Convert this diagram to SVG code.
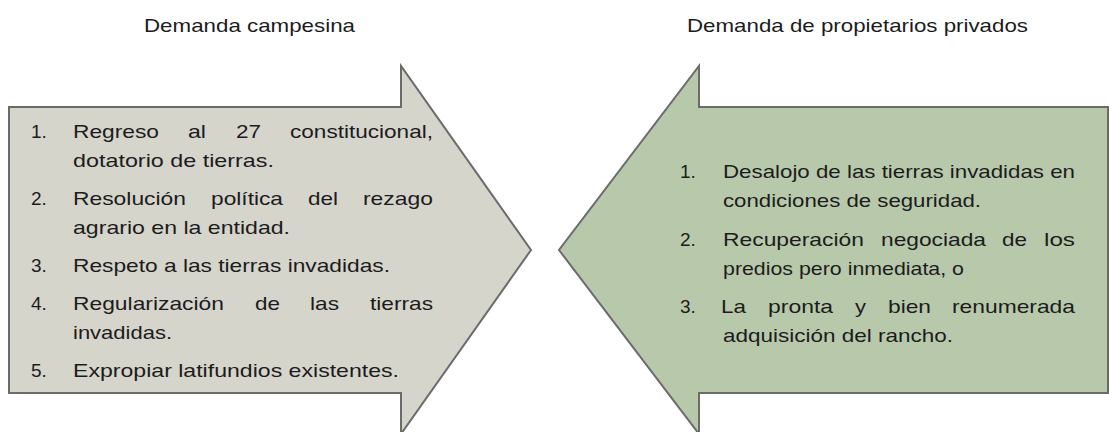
<svg xmlns="http://www.w3.org/2000/svg" width="1109" height="432" viewBox="0 0 1109 432">
<style>
text{font-family:"Liberation Sans",Arial,sans-serif;font-size:19px;fill:#1c1c1c}
.arrow{stroke:#6b6b6b;stroke-width:2;stroke-linejoin:miter}
.left{fill:#d6d5cc}
.right{fill:#b8c9ab}
</style>
<rect width="1109" height="432" fill="#ffffff"/>
<g id="title-left"><text x="144" y="32" textLength="211" lengthAdjust="spacingAndGlyphs">Demanda campesina</text></g>
<g id="title-right"><text x="687" y="32" textLength="341" lengthAdjust="spacingAndGlyphs">Demanda de propietarios privados</text></g>
<g id="arrow-left">
<path class="arrow left" d="M9,107 L401,107 L401,66 L531,250 L401,434 L401,393 L9,393 Z"/>
<text x="31" y="138">1.</text>
<text x="73" y="138" textLength="86" lengthAdjust="spacingAndGlyphs">Regreso</text>
<text x="188" y="138" textLength="18" lengthAdjust="spacingAndGlyphs">al</text>
<text x="236" y="138" textLength="25" lengthAdjust="spacingAndGlyphs">27</text>
<text x="290" y="138" textLength="143" lengthAdjust="spacingAndGlyphs">constitucional,</text>
<text x="73" y="167" textLength="201" lengthAdjust="spacingAndGlyphs">dotatorio de tierras.</text>
<text x="31" y="205">2.</text>
<text x="73" y="205" textLength="113" lengthAdjust="spacingAndGlyphs">Resolución</text>
<text x="211" y="205" textLength="72" lengthAdjust="spacingAndGlyphs">política</text>
<text x="308" y="205" textLength="30" lengthAdjust="spacingAndGlyphs">del</text>
<text x="363" y="205" textLength="70" lengthAdjust="spacingAndGlyphs">rezago</text>
<text x="73" y="234" textLength="217" lengthAdjust="spacingAndGlyphs">agrario en la entidad.</text>
<text x="31" y="272">3.</text>
<text x="73" y="272" textLength="317" lengthAdjust="spacingAndGlyphs">Respeto a las tierras invadidas.</text>
<text x="31" y="310">4.</text>
<text x="73" y="310" textLength="151" lengthAdjust="spacingAndGlyphs">Regularización</text>
<text x="255" y="310" textLength="25" lengthAdjust="spacingAndGlyphs">de</text>
<text x="310" y="310" textLength="29" lengthAdjust="spacingAndGlyphs">las</text>
<text x="370" y="310" textLength="63" lengthAdjust="spacingAndGlyphs">tierras</text>
<text x="73" y="339" textLength="99" lengthAdjust="spacingAndGlyphs">invadidas.</text>
<text x="31" y="377">5.</text>
<text x="73" y="377" textLength="326" lengthAdjust="spacingAndGlyphs">Expropiar latifundios existentes.</text>
</g>
<g id="arrow-right">
<path class="arrow right" d="M1108,107 L699,107 L699,66 L559,250 L699,434 L699,393 L1108,393 Z"/>
<text x="680" y="178">1.</text>
<text x="723" y="178" textLength="352" lengthAdjust="spacingAndGlyphs">Desalojo de las tierras invadidas en</text>
<text x="723" y="207" textLength="258" lengthAdjust="spacingAndGlyphs">condiciones de seguridad.</text>
<text x="680" y="246">2.</text>
<text x="723" y="246" textLength="141" lengthAdjust="spacingAndGlyphs">Recuperación</text>
<text x="881" y="246" textLength="105" lengthAdjust="spacingAndGlyphs">negociada</text>
<text x="1002" y="246" textLength="25" lengthAdjust="spacingAndGlyphs">de</text>
<text x="1044" y="246" textLength="31" lengthAdjust="spacingAndGlyphs">los</text>
<text x="723" y="275" textLength="241" lengthAdjust="spacingAndGlyphs">predios pero inmediata, o</text>
<text x="680" y="313">3.</text>
<text x="721" y="313" textLength="25" lengthAdjust="spacingAndGlyphs">La</text>
<text x="768" y="313" textLength="65" lengthAdjust="spacingAndGlyphs">pronta</text>
<text x="855" y="313" textLength="11" lengthAdjust="spacingAndGlyphs">y</text>
<text x="888" y="313" textLength="43" lengthAdjust="spacingAndGlyphs">bien</text>
<text x="952" y="313" textLength="123" lengthAdjust="spacingAndGlyphs">renumerada</text>
<text x="723" y="342" textLength="230" lengthAdjust="spacingAndGlyphs">adquisición del rancho.</text>
</g>
<g id="connectors"/>
</svg>
